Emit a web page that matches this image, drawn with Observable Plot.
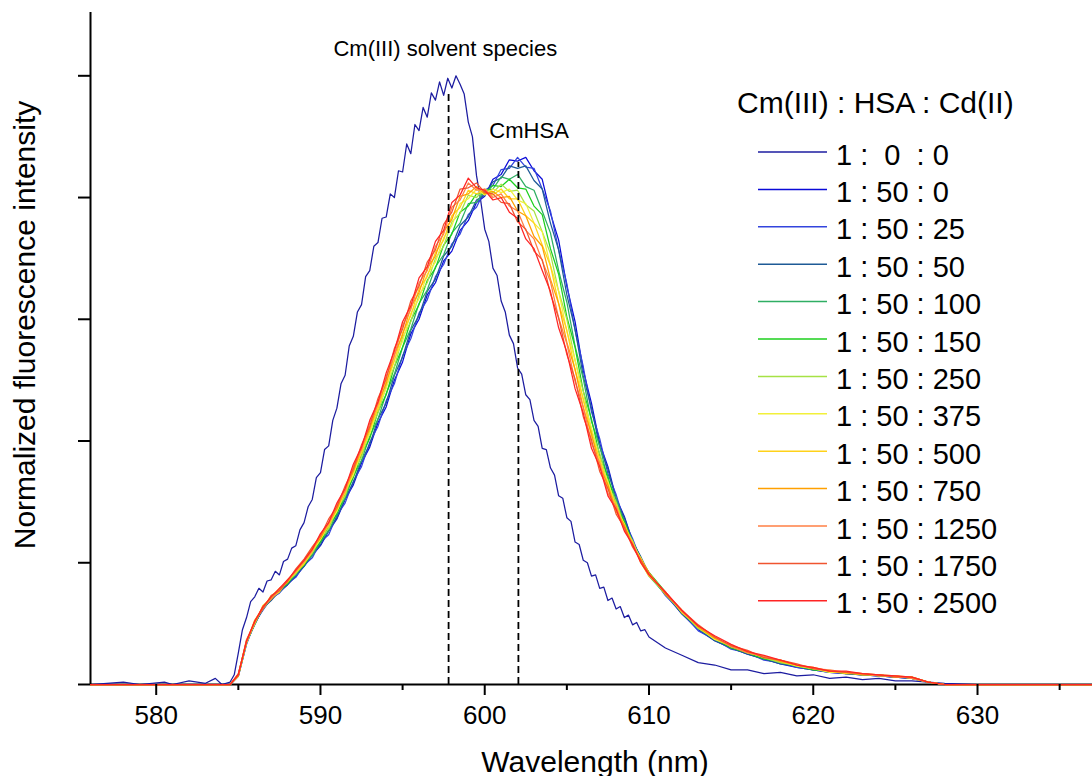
<!DOCTYPE html>
<html><head><meta charset="utf-8">
<script src="https://cdn.jsdelivr.net/npm/d3@7"></script>
<script src="https://cdn.jsdelivr.net/npm/@observablehq/plot@0.6"></script>
<style>
body{margin:0;background:#fff;}
#chart{width:1092px;height:776px;}
svg{font-family:"Liberation Sans",Arial,sans-serif;}
</style></head><body><div id="chart"></div>
<script>
// Wavelength grid shared by the twelve Cm(III)/HSA spectra
const wavelengths = [576, 584,
 584.5, 585, 585.5, 586, 586.5, 587, 587.5, 588, 588.5, 589,
 589.5, 590, 590.5, 591, 591.5, 592, 592.5, 593, 593.5, 594,
 594.5, 595, 595.5, 596, 596.5, 597, 597.5, 598, 598.5, 599,
 599.5, 600, 600.5, 601, 601.5, 602, 602.5, 603, 603.5, 604,
 604.5, 605, 605.5, 606, 606.5, 607, 607.5, 608, 608.5, 609,
 609.5, 610, 611, 612, 613, 614, 615, 616, 617, 618,
 619, 620, 621, 622, 623, 624, 625, 626, 627, 628,
 630, 637];

// Finer grid for the Cm(III) solvent species spectrum (1 : 0 : 0)
const wavelengths_1_0_0 = [576, 577, 578, 579, 580.5, 581, 582, 583, 583.6, 584,
 584.5, 584.75, 585, 585.25, 585.5, 585.75, 586, 586.25, 586.5, 586.75,
 587, 587.25, 587.5, 587.75, 588, 588.25, 588.5, 588.75, 589, 589.25,
 589.5, 589.75, 590, 590.25, 590.5, 590.75, 591, 591.25, 591.5, 591.75,
 592, 592.25, 592.5, 592.75, 593, 593.25, 593.5, 593.75, 594, 594.25,
 594.5, 594.75, 595, 595.25, 595.5, 595.75, 596, 596.25, 596.5, 596.75,
 597, 597.25, 597.5, 597.75, 598, 598.25, 598.5, 598.75, 599, 599.25,
 599.5, 599.75, 600, 600.25, 600.5, 600.75, 601, 601.25, 601.5, 601.75,
 602, 602.25, 602.5, 602.75, 603, 603.25, 603.5, 603.75, 604, 604.25,
 604.5, 604.75, 605, 605.25, 605.5, 605.75, 606, 606.25, 606.5, 606.75,
 607, 607.25, 607.5, 607.75, 608, 608.25, 608.5, 608.75, 609, 609.25,
 609.5, 609.75, 610, 611, 612, 613, 614, 615, 616, 617,
 618, 619, 620, 621, 622, 623, 624, 625, 626, 627,
 628, 630, 637];

const seriesLabels = ["1 :  0  : 0","1 : 50 : 0","1 : 50 : 25","1 : 50 : 50","1 : 50 : 100","1 : 50 : 150","1 : 50 : 250","1 : 50 : 375","1 : 50 : 500","1 : 50 : 750","1 : 50 : 1250","1 : 50 : 1750","1 : 50 : 2500"];
const seriesColors = ["#1c1ca0","#0a0ad8","#3344dd","#1e5a96","#2fae63","#1ccf1c","#a6e245","#f2f03a","#ffd21a","#ffa000","#ff7f45","#f05530","#ff2424"];

const s_1_0_0 = [0, .01, .02, 0, .02, 0, .03, .01, .05, 0,
 .02, .08, .26, .45, .55, .68, .72, .79, .76, .85,
 .86, .93, .90, 1.01, 1.03, 1.12, 1.14, 1.27, 1.33, 1.46,
 1.52, 1.70, 1.74, 1.93, 1.96, 2.17, 2.27, 2.47, 2.54, 2.78,
 2.86, 3.06, 3.12, 3.35, 3.40, 3.60, 3.63, 3.83, 3.84, 4.03,
 4.00, 4.22, 4.21, 4.44, 4.36, 4.60, 4.55, 4.74, 4.66, 4.86,
 4.80, 4.95, 4.84, 4.98, 4.90, 5.00, 4.93, 4.85, 4.62, 4.50,
 4.18, 3.98, 3.74, 3.64, 3.42, 3.36, 3.15, 3.06, 2.87, 2.80,
 2.60, 2.55, 2.38, 2.34, 2.17, 2.12, 1.94, 1.93, 1.78, 1.72,
 1.55, 1.53, 1.37, 1.34, 1.17, 1.15, 1.02, 1.00, .89, .90,
 .79, .80, .69, .71, .62, .64, .55, .57, .49, .51,
 .44, .45, .39, .30, .24, .18, .16, .12, .12, .09,
 .10, .07, .08, .05, .06, .04, .05, .03, .03, .02,
 .01, 0, 0];
const s_1_50_0 = [0,0,
 0,.07,.34,.50,.62,.70,.76,.82,.89,.97,
 1.06,1.14,1.26,1.36,1.52,1.64,1.82,1.95,2.15,2.28,
 2.50,2.65,2.88,3.00,3.20,3.30,3.48,3.56,3.73,3.81,
 3.96,4.01,4.15,4.19,4.31,4.30,4.33,4.22,4.15,3.87,
 3.65,3.27,2.98,2.58,2.31,1.98,1.79,1.53,1.38,1.18,
 1.04,.90,.74,.58,.45,.36,.30,.25,.21,.17,
 .14,.12,.10,.09,.08,.07,.06,.05,.02,0,
 0,0];
const s_1_50_25 = [0,0,
 0,.07,.33,.51,.61,.71,.75,.83,.88,.98,
 1.04,1.17,1.23,1.39,1.49,1.67,1.79,1.99,2.12,2.33,
 2.47,2.70,2.84,3.05,3.16,3.35,3.45,3.62,3.70,3.86,
 3.92,4.06,4.10,4.23,4.24,4.33,4.25,4.24,4.07,3.89,
 3.57,3.29,2.91,2.61,2.24,2.02,1.73,1.56,1.34,1.20,
 1.02,.92,.73,.59,.44,.37,.29,.26,.20,.18,
 .14,.12,.10,.09,.08,.07,.06,.05,.02,0,
 0,0];
const s_1_50_50 = [0,0,
 0,.08,.35,.49,.63,.69,.77,.82,.90,.97,
 1.07,1.15,1.27,1.37,1.53,1.66,1.84,1.97,2.18,2.31,
 2.54,2.69,2.91,3.03,3.23,3.33,3.52,3.60,3.77,3.84,
 3.98,4.02,4.13,4.16,4.26,4.24,4.26,4.14,4.07,3.79,
 3.57,3.20,2.92,2.53,2.27,1.95,1.77,1.51,1.37,1.17,
 1.05,.91,.75,.58,.46,.36,.30,.25,.21,.17,
 .15,.12,.11,.09,.08,.07,.06,.05,.02,0,
 0,0];
const s_1_50_100 = [0,0,
 0,.07,.34,.51,.62,.72,.76,.84,.90,.99,
 1.06,1.18,1.26,1.41,1.53,1.71,1.84,2.04,2.18,2.39,
 2.55,2.77,2.92,3.13,3.24,3.43,3.53,3.71,3.79,3.95,
 3.96,4.06,4.07,4.17,4.15,4.19,4.09,4.06,3.89,3.71,
 3.40,3.14,2.78,2.51,2.16,1.96,1.68,1.53,1.32,1.18,
 1.01,.89,.74,.60,.46,.37,.31,.26,.22,.18,
 .15,.13,.10,.10,.08,.08,.06,.06,.02,0,
 0,0];
const s_1_50_150 = [0,0,
 0,.08,.36,.50,.64,.70,.78,.83,.92,.98,
 1.09,1.17,1.30,1.40,1.56,1.70,1.89,2.02,2.24,2.38,
 2.61,2.77,2.99,3.12,3.32,3.42,3.61,3.70,3.88,3.93,
 4.03,4.03,4.10,4.09,4.15,4.08,4.07,3.93,3.86,3.58,
 3.37,3.02,2.77,2.41,2.18,1.88,1.71,1.47,1.34,1.16,
 1.03,.92,.76,.59,.47,.38,.30,.26,.21,.19,
 .15,.12,.11,.09,.09,.07,.07,.05,.02,0,
 0,0];
const s_1_50_250 = [0,0,
 0,.07,.35,.52,.62,.71,.77,.85,.91,1.00,
 1.08,1.20,1.28,1.44,1.55,1.75,1.87,2.08,2.23,2.45,
 2.61,2.85,2.98,3.20,3.30,3.50,3.60,3.80,3.87,4.02,
 4.00,4.07,4.04,4.11,4.05,4.06,3.94,3.89,3.72,3.54,
 3.23,3.00,2.66,2.41,2.08,1.90,1.64,1.50,1.30,1.18,
 1.02,.90,.74,.60,.46,.38,.31,.27,.22,.18,
 .16,.13,.11,.10,.08,.08,.06,.06,.02,0,
 0,0];
const s_1_50_375 = [0,0,
 0,.08,.34,.51,.63,.73,.78,.84,.93,1.01,
 1.10,1.19,1.32,1.42,1.59,1.72,1.92,2.06,2.28,2.43,
 2.67,2.82,3.05,3.17,3.37,3.47,3.67,3.77,3.95,3.99,
 4.07,4.02,4.07,4.04,4.07,3.98,3.95,3.79,3.72,3.44,
 3.23,2.90,2.67,2.33,2.11,1.83,1.67,1.44,1.32,1.15,
 1.04,.91,.75,.61,.47,.37,.32,.26,.23,.19,
 .15,.13,.10,.10,.09,.07,.07,.05,.02,0,
 0,0];
const s_1_50_500 = [0,0,
 0,.08,.36,.50,.65,.71,.76,.86,.92,.99,
 1.09,1.22,1.30,1.46,1.57,1.77,1.90,2.11,2.26,2.49,
 2.66,2.89,3.03,3.25,3.35,3.55,3.65,3.85,3.92,4.06,
 4.03,4.06,4.02,4.07,3.99,3.99,3.85,3.79,3.61,3.44,
 3.13,2.91,2.58,2.35,2.04,1.86,1.61,1.48,1.29,1.17,
 1.00,.89,.76,.59,.48,.39,.31,.27,.22,.20,
 .16,.13,.11,.09,.09,.08,.06,.06,.02,0,
 0,0];
const s_1_50_750 = [0,0,
 0,.07,.35,.53,.63,.72,.79,.84,.94,1.02,
 1.12,1.20,1.33,1.44,1.61,1.75,1.94,2.10,2.31,2.47,
 2.71,2.87,3.10,3.22,3.42,3.52,3.72,3.82,4.01,4.03,
 4.09,4.03,4.05,4.00,4.01,3.89,3.85,3.68,3.60,3.33,
 3.13,2.81,2.59,2.27,2.06,1.79,1.64,1.42,1.31,1.14,
 1.03,.92,.74,.61,.47,.38,.32,.27,.23,.19,
 .16,.14,.11,.10,.08,.08,.07,.06,.02,0,
 0,0];
const s_1_50_1250 = [0,0,
 0,.08,.37,.51,.64,.70,.78,.86,.93,1.01,
 1.10,1.23,1.32,1.47,1.59,1.79,1.93,2.15,2.30,2.53,
 2.70,2.95,3.08,3.30,3.40,3.60,3.70,3.92,3.98,4.12,
 4.06,4.07,4.00,4.03,3.93,3.89,3.73,3.66,3.48,3.31,
 3.01,2.80,2.49,2.28,1.98,1.82,1.57,1.46,1.27,1.16,
 1.01,.90,.76,.60,.48,.39,.31,.26,.23,.20,
 .16,.13,.12,.10,.09,.07,.07,.05,.02,0,
 0,0];
const s_1_50_1750 = [0,0,
 0,.09,.35,.52,.62,.73,.77,.85,.95,1.03,
 1.13,1.22,1.36,1.46,1.63,1.77,1.97,2.12,2.35,2.51,
 2.76,2.92,3.15,3.27,3.47,3.57,3.78,3.88,4.07,4.08,
 4.12,4.04,4.03,3.96,3.95,3.80,3.74,3.56,3.49,3.21,
 3.01,2.71,2.51,2.20,2.01,1.75,1.61,1.40,1.29,1.13,
 1.02,.91,.75,.61,.49,.39,.32,.28,.22,.20,
 .17,.13,.11,.10,.09,.08,.06,.06,.02,0,
 0,0];
const s_1_50_2500 = [0,0,
 0,.08,.36,.52,.64,.72,.79,.86,.94,1.02,
 1.11,1.24,1.33,1.49,1.61,1.81,1.95,2.17,2.32,2.56,
 2.74,2.98,3.11,3.34,3.43,3.64,3.73,3.96,4.02,4.16,
 4.08,4.06,3.98,4.00,3.88,3.83,3.66,3.58,3.40,3.23,
 2.93,2.73,2.43,2.23,1.94,1.79,1.55,1.44,1.26,1.15,
 1.00,.90,.76,.61,.48,.40,.33,.27,.24,.20,
 .16,.14,.11,.11,.09,.08,.07,.06,.02,0,
 0,0];

const seriesValues = [s_1_0_0, s_1_50_0, s_1_50_25, s_1_50_50, s_1_50_100, s_1_50_150, s_1_50_250, s_1_50_375, s_1_50_500, s_1_50_750, s_1_50_1250, s_1_50_1750, s_1_50_2500];
const seriesX = seriesValues.map((v, i) => i === 0 ? wavelengths_1_0_0 : wavelengths);

const xTicks = [580, 590, 600, 610, 620, 630];
const xMinorTicks = [585, 595, 605, 615, 625, 635];
const yTicks = [0, 1, 2, 3, 4, 5];
const peakLines = [{nm: 597.8, top: 4.88}, {nm: 602.05, top: 4.29}];
const annotations = [{text: "Cm(III) solvent species", nm: 597.6, v: 5.22}, {text: "CmHSA", nm: 602.7, v: 4.55}];
const legendTitle = "Cm(III) : HSA : Cd(II)";
const xLabel = "Wavelength (nm)";
const yLabel = "Normalized fluorescence intensity";

const FONT = "Liberation Sans, Arial, sans-serif";

const plot = Plot.plot({
  width: 1092, height: 776,
  marginLeft: 90, marginRight: 0, marginTop: 12, marginBottom: 92,
  x: {domain: [576, 637]},
  y: {domain: [0, 5.52]},
  style: {fontFamily: FONT, color: "#000", background: "#fff", overflow: "visible"},
  marks: [
    Plot.ruleY([0], {stroke: "#000", strokeWidth: 2}),
    Plot.ruleX([576], {stroke: "#000", strokeWidth: 2}),
    ...seriesValues.map((vals, i) => Plot.line(seriesX[i], {
      x: d => d, y: (d, j) => vals[j], stroke: seriesColors[i], strokeWidth: 1.25
    })),
    Plot.ruleX(peakLines, {x: "nm", y1: 0, y2: "top", stroke: "#000", strokeWidth: 1.8, strokeDasharray: "7,4"}),
    Plot.text(annotations, {x: "nm", y: "v", text: "text", fontSize: 22, fill: "#000"}),
    Plot.axisX({ticks: xTicks, tickSize: 11, tickPadding: 10, fontSize: 26, strokeWidth: 2, label: null}),
    Plot.axisX({ticks: xMinorTicks, tickSize: 6, tickFormat: () => "", strokeWidth: 2, label: null}),
    Plot.axisY({ticks: yTicks, tickSize: 12, tickFormat: () => "", strokeWidth: 2, label: null})
  ]
});

document.getElementById("chart").appendChild(plot);

const svg = d3.select(plot);
svg.append("text")
  .attr("x", 595).attr("y", 772)
  .attr("text-anchor", "middle")
  .attr("font-size", 30).attr("fill", "#000")
  .attr("font-family", FONT)
  .text(xLabel);
svg.append("text")
  .attr("transform", "translate(35,325) rotate(-90)")
  .attr("text-anchor", "middle")
  .attr("font-size", 30).attr("fill", "#000")
  .attr("font-family", FONT)
  .text(yLabel);

const lg = svg.append("g").attr("font-family", FONT).attr("text-anchor", "start");
lg.append("text").attr("x", 737).attr("y", 113).attr("font-size", 30).attr("fill", "#000")
  .attr("text-anchor", "start").text(legendTitle);
seriesLabels.forEach((lab, i) => {
  const yy = 152 + 37.4 * i;
  lg.append("line").attr("x1", 758).attr("x2", 827).attr("y1", yy).attr("y2", yy)
    .attr("stroke", seriesColors[i]).attr("stroke-width", 1.5);
  lg.append("text").attr("x", 836).attr("y", yy + 12.5).attr("font-size", 29).attr("fill", "#000")
    .attr("text-anchor", "start").style("white-space", "pre").text(lab);
});
</script>
</body></html>
